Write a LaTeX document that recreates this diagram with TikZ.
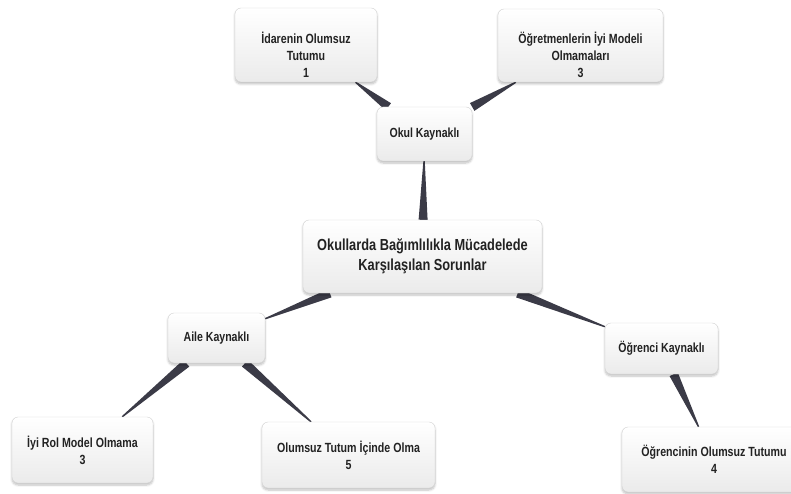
\documentclass[tikz,border=0pt]{standalone}
\usepackage{fontspec}
\setmainfont{Liberation Sans}[FakeStretch=0.8]
\usetikzlibrary{positioning,calc,backgrounds,shadows.blur}

\definecolor{kolrenk}{HTML}{3B3B47}
\definecolor{yazi}{HTML}{222222}

\tikzset{
    kutu/.style={draw=gray!35, rounded corners=6pt, top color=white, bottom color=gray!16,
        align=center, text=yazi, inner sep=2pt,
        blur shadow={shadow xshift=0pt, shadow yshift=-2pt, shadow blur steps=6, shadow opacity=25}},
    yaprak/.style={kutu, font=\bfseries\fontsize{13.3}{17}\selectfont},
    dal/.style={kutu, font=\bfseries\fontsize{13.2}{17}\selectfont},
    kok/.style={kutu, font=\bfseries\fontsize{16}{20.5}\selectfont},
    kol/.style={fill=kolrenk}
}

% tapered connector: wide at parent border, thin at child border
\newcommand{\kol}[2]{%
    \path (#1) -- (#2) coordinate[pos=0] (ka) coordinate[pos=1] (kb);
    \fill[kol] ($(ka)!4.5pt!90:(kb)$) -- ($(kb)!0.7pt!-90:(ka)$)
        -- ($(kb)!0.7pt!90:(ka)$) -- ($(ka)!4.5pt!-90:(kb)$) -- cycle;}
% pushes the text of the upper leaves a little down
\newcommand{\ust}{\rule{0pt}{31pt}}

\begin{document}
\begin{tikzpicture}[x=1pt,y=-1pt]
    \useasboundingbox (0,0) rectangle (791,494);

    % centre
    \node[kok, minimum width=239pt, minimum height=73pt] (merkez) at (422.5,256.5)
        {Okullarda Bağımlılıkla Mücadelede\\Karşılaşılan Sorunlar};

    % branches
    \node[dal, minimum width=95pt, minimum height=54pt] (okul) at (424.5,134) {Okul Kaynaklı};
    \node[dal, minimum width=97pt, minimum height=50pt] (aile) at (216.5,338) {Aile Kaynaklı};
    \node[dal, minimum width=113pt, minimum height=51pt] (ogrenci) at (661.5,348.5) {Öğrenci Kaynaklı};

    % leaves
    \node[yaprak, minimum width=142pt, minimum height=74pt] (idare) at (306,45)
        {\ust İdarenin Olumsuz\\Tutumu\\1};
    \node[yaprak, minimum width=165pt, minimum height=73pt] (ogretmen) at (580.5,45.5)
        {\ust Öğretmenlerin İyi Modeli\\Olmamaları\\3};
    \node[yaprak, minimum width=141pt, minimum height=66pt] (rol) at (82.5,450)
        {İyi Rol Model Olmama\\3};
    \node[yaprak, minimum width=173pt, minimum height=66pt] (tutum) at (348.5,455)
        {Olumsuz Tutum İçinde Olma\\5};
    \node[yaprak, minimum width=184pt, minimum height=65pt] (ogrtutum) at (714,459.5)
        {Öğrencinin Olumsuz Tutumu\\4};

    % connectors
    \begin{scope}[on background layer]
        \kol{merkez}{okul}
        \kol{merkez}{aile}
        \kol{merkez}{ogrenci}
        \kol{okul}{idare}
        \kol{okul}{ogretmen}
        \kol{aile}{rol}
        \kol{aile}{tutum}
        \kol{ogrenci}{ogrtutum}
    \end{scope}
\end{tikzpicture}
\end{document}
